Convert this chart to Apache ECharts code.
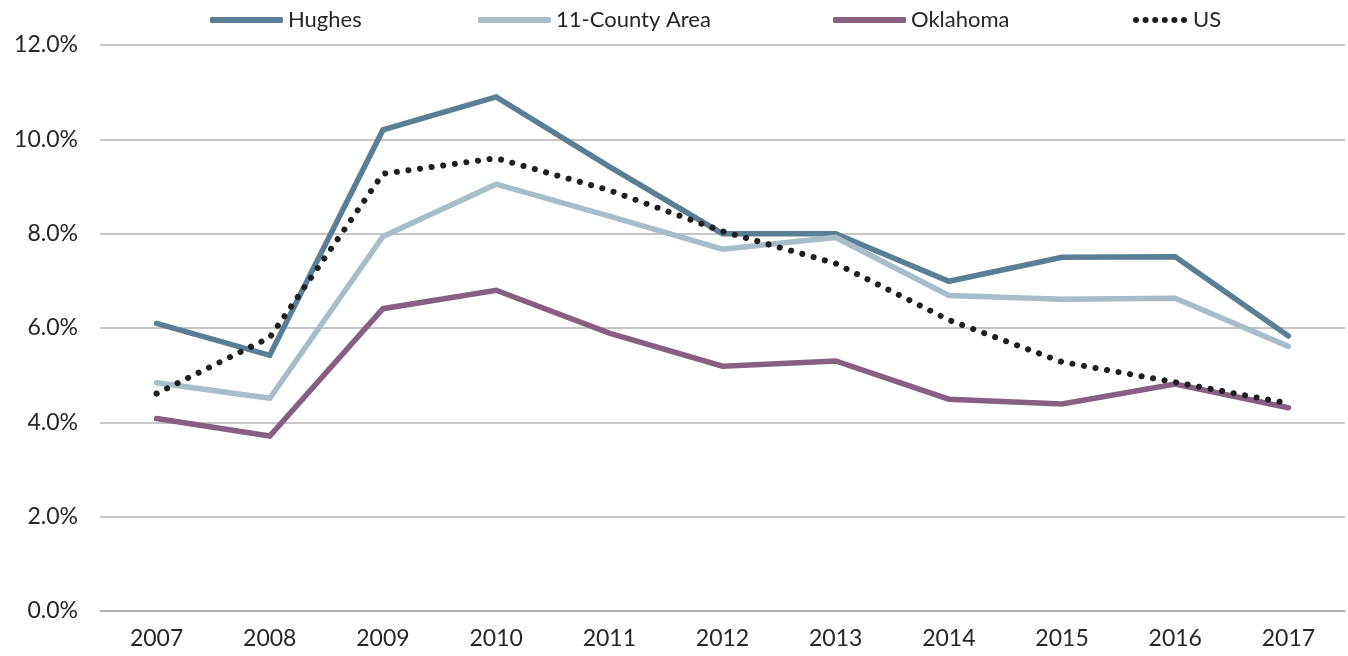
<!DOCTYPE html>
<html>
<head>
<meta charset="utf-8">
<script src="https://cdn.jsdelivr.net/npm/echarts@6/dist/echarts.min.js"></script>
<style>
  html, body { margin: 0; padding: 0; background: #fff; }
  #chart-container { width: 1348px; height: 656px; }
</style>
</head>
<body>
<div id="chart-container"></div>
<script>
var years = ["2007", "2008", "2009", "2010", "2011", "2012", "2013", "2014", "2015", "2016", "2017"];
var hughes = [6.1, 5.42, 10.2, 10.9, 9.42, 8.0, 8.0, 6.99, 7.5, 7.51, 5.83];
var countyArea = [4.84, 4.51, 7.94, 9.05, 8.37, 7.67, 7.92, 6.69, 6.61, 6.63, 5.61];
var oklahoma = [4.08, 3.71, 6.41, 6.8, 5.89, 5.19, 5.3, 4.49, 4.39, 4.81, 4.31];
var us = [4.61, 5.8, 9.27, 9.6, 8.92, 8.05, 7.37, 6.17, 5.28, 4.85, 4.4];

var FONT = "Lato";
var TEXT = "#262626";

// six round dots for the US legend icon
var dotsIcon = "path://" + [3, 12.6, 22.2, 31.8, 41.4, 51].map(function (cx) {
  return "M" + (cx - 3) + ",3A3,3,0,1,1," + (cx + 3) + ",3A3,3,0,1,1," + (cx - 3) + ",3Z";
}).join("");

var dom = document.getElementById("chart-container");
var myChart = echarts.init(dom, null, { renderer: "canvas" });

function legendAt(name, left, icon, w) {
  return {
    data: [{ name: name, icon: icon }],
    top: 9,
    left: left,
    padding: 0,
    itemWidth: w,
    itemHeight: 6,
    itemGap: 5,
    textStyle: { fontFamily: FONT, fontSize: 22, color: TEXT }
  };
}

function lineSeries(name, data, color, type) {
  return {
    name: name,
    type: "line",
    data: data,
    symbol: "none",
    z: type ? 5 : 3,
    lineStyle: {
      color: color,
      width: type ? 6 : 5.5,
      type: type || "solid",
      cap: "round",
      join: "miter"
    },
    itemStyle: { color: color }
  };
}

var option = {
  animation: false,
  legend: [
    legendAt("Hughes", 210, "roundRect", 73),
    legendAt("11-County Area", 478, "roundRect", 73),
    legendAt("Oklahoma", 833, "roundRect", 73),
    legendAt("US", 1133, dotsIcon, 56)
  ],
  grid: { left: 100, right: 3, top: 45, bottom: 45 },
  xAxis: {
    type: "category",
    data: years,
    boundaryGap: true,
    axisLine: { lineStyle: { color: "#a6a6a6", width: 1.5 } },
    axisTick: { show: false },
    axisLabel: { fontFamily: FONT, fontSize: 23, color: TEXT, margin: 16 }
  },
  yAxis: {
    type: "value",
    min: 0,
    max: 12,
    interval: 2,
    axisLine: { show: false },
    axisTick: { show: false },
    splitLine: { lineStyle: { color: "#b3b3b3", width: 1.5 } },
    axisLabel: {
      fontFamily: FONT,
      fontSize: 23,
      color: TEXT,
      margin: 22,
      formatter: function (v) { return v.toFixed(1) + "%"; }
    }
  },
  series: [
    lineSeries("Hughes", hughes, "#5a7f94"),
    lineSeries("11-County Area", countyArea, "#a7bdc8"),
    lineSeries("Oklahoma", oklahoma, "#875f80"),
    lineSeries("US", us, "#1f1f1f", [0.1, 11.6])
  ]
};

myChart.setOption(option);
window.addEventListener("resize", myChart.resize);
</script>
</body>
</html>
